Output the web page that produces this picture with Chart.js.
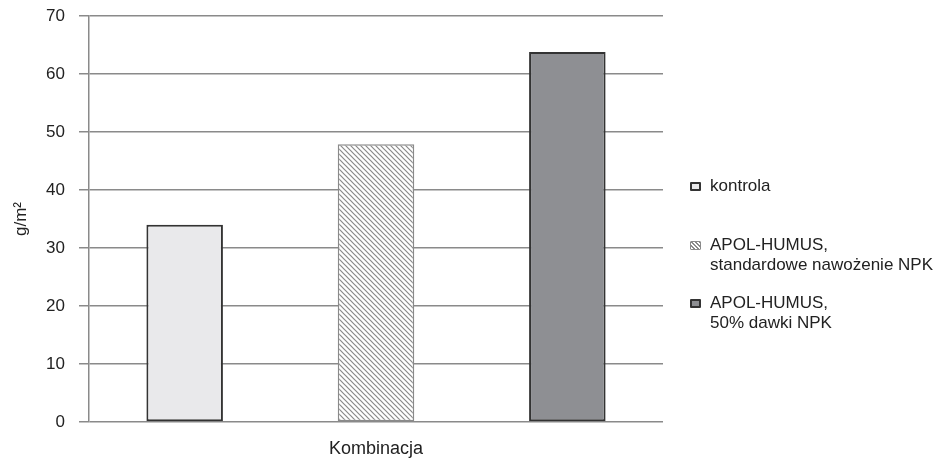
<!DOCTYPE html>
<html>
<head>
<meta charset="utf-8">
<script src="https://cdn.jsdelivr.net/npm/chart.js@4.4.1/dist/chart.umd.min.js"></script>
<style>
  html, body { margin: 0; padding: 0; background: #fff; }
  #wrap { position: relative; width: 939px; height: 460px; }
  #legend { position: absolute; left: 690px; top: 0; font-family: "Liberation Sans", Arial, sans-serif; font-size: 17px; color: #222; }
  .item { position: absolute; left: 0; white-space: nowrap; line-height: 20px; }
  .sw { position: absolute; left: 0; top: 6px; width: 7px; height: 5px; border-radius: 1px; }
  .txt { position: absolute; left: 20px; top: 0; }
</style>
</head>
<body>
<div id="wrap">
  <canvas id="chart" width="939" height="460"></canvas>
  <div id="legend"></div>
</div>
<script>
const categories = ["Kombinacja"];
const seriesNames = [
  ["kontrola"],
  ["APOL-HUMUS,", "standardowe nawożenie NPK"],
  ["APOL-HUMUS,", "50% dawki NPK"]
];
const seriesValues = [34, 47.9, 63.8];
const yTicks = [0, 10, 20, 30, 40, 50, 60, 70];

function hatch() {
  const s = 5;
  const c = document.createElement("canvas");
  c.width = s; c.height = s;
  const g = c.getContext("2d");
  g.fillStyle = "#ffffff";
  g.fillRect(0, 0, s, s);
  g.strokeStyle = "#8a8a8a";
  g.lineWidth = 1.2;
  g.beginPath();
  g.moveTo(-1, -1); g.lineTo(s + 1, s + 1);
  g.moveTo(-1, s - 1); g.lineTo(1, s + 1);
  g.moveTo(s - 1, -1); g.lineTo(s + 1, 1);
  g.stroke();
  return document.getElementById("chart").getContext("2d").createPattern(c, "repeat");
}

const fills = ["#e9e9eb", hatch(), "#8e8f93"];
const borders = ["#333333", "#8a8a8a", "#333333"];
const borderWidths = [2, 1.5, 2];

const datasets = seriesValues.map((v, i) => ({
  label: seriesNames[i].join(" "),
  data: [v],
  backgroundColor: fills[i],
  borderColor: borders[i],
  borderWidth: borderWidths[i],
  borderSkipped: false,
  categoryPercentage: 1.0,
  barPercentage: 0.4
}));

const gridColor = "#8a8a8a";
const font = { family: "Liberation Sans", size: 17 };

new Chart(document.getElementById("chart"), {
  type: "bar",
  data: { labels: categories, datasets },
  options: {
    responsive: false,
    animation: false,
    layout: { padding: { left: 0, right: 276, top: 16, bottom: 0 } },
    plugins: { legend: { display: false }, tooltip: { enabled: false } },
    scales: {
      x: {
        grid: { display: false },
        border: { display: false },
        ticks: { display: false },
        title: {
          display: true, text: "Kombinacja", color: "#222",
          font: { family: "Liberation Sans", size: 18 },
          padding: { top: 21, bottom: 0 }
        },
        afterFit: s => { s.height = 38; s.paddingLeft = 0; s.paddingRight = 0; }
      },
      y: {
        min: 0, max: 70,
        afterBuildTicks: s => { s.ticks = yTicks.map(v => ({ value: v })); },
        grid: { color: gridColor, lineWidth: 1.5, tickLength: 10, drawTicks: true },
        border: { display: true, color: gridColor, width: 1.5 },
        ticks: { color: "#222", padding: 14, font },
        title: {
          display: true, text: "g/m²", color: "#222",
          font,
          padding: { top: 11, bottom: 0 }
        },
        afterFit: s => { s.width = 89; s.paddingTop = 0; s.paddingBottom = 0; }
      }
    }
  }
});

// legend
const legend = document.getElementById("legend");
const legendTops = [176, 235, 293];
const swatchCss = [
  "background:#e9e9eb;border:2px solid #333;",
  "background:repeating-linear-gradient(45deg,#fff 0 1.5px,#8a8a8a 1.5px 3px);border:1px solid #8a8a8a;width:9px;height:7px;",
  "background:#8e8f93;border:2px solid #333;"
];
seriesNames.forEach((lines, i) => {
  const it = document.createElement("div");
  it.className = "item";
  it.style.top = legendTops[i] + "px";
  it.innerHTML = `<span class="sw" style="${swatchCss[i]}"></span><span class="txt">${lines.join("<br>")}</span>`;
  legend.appendChild(it);
});
</script>
</body>
</html>
